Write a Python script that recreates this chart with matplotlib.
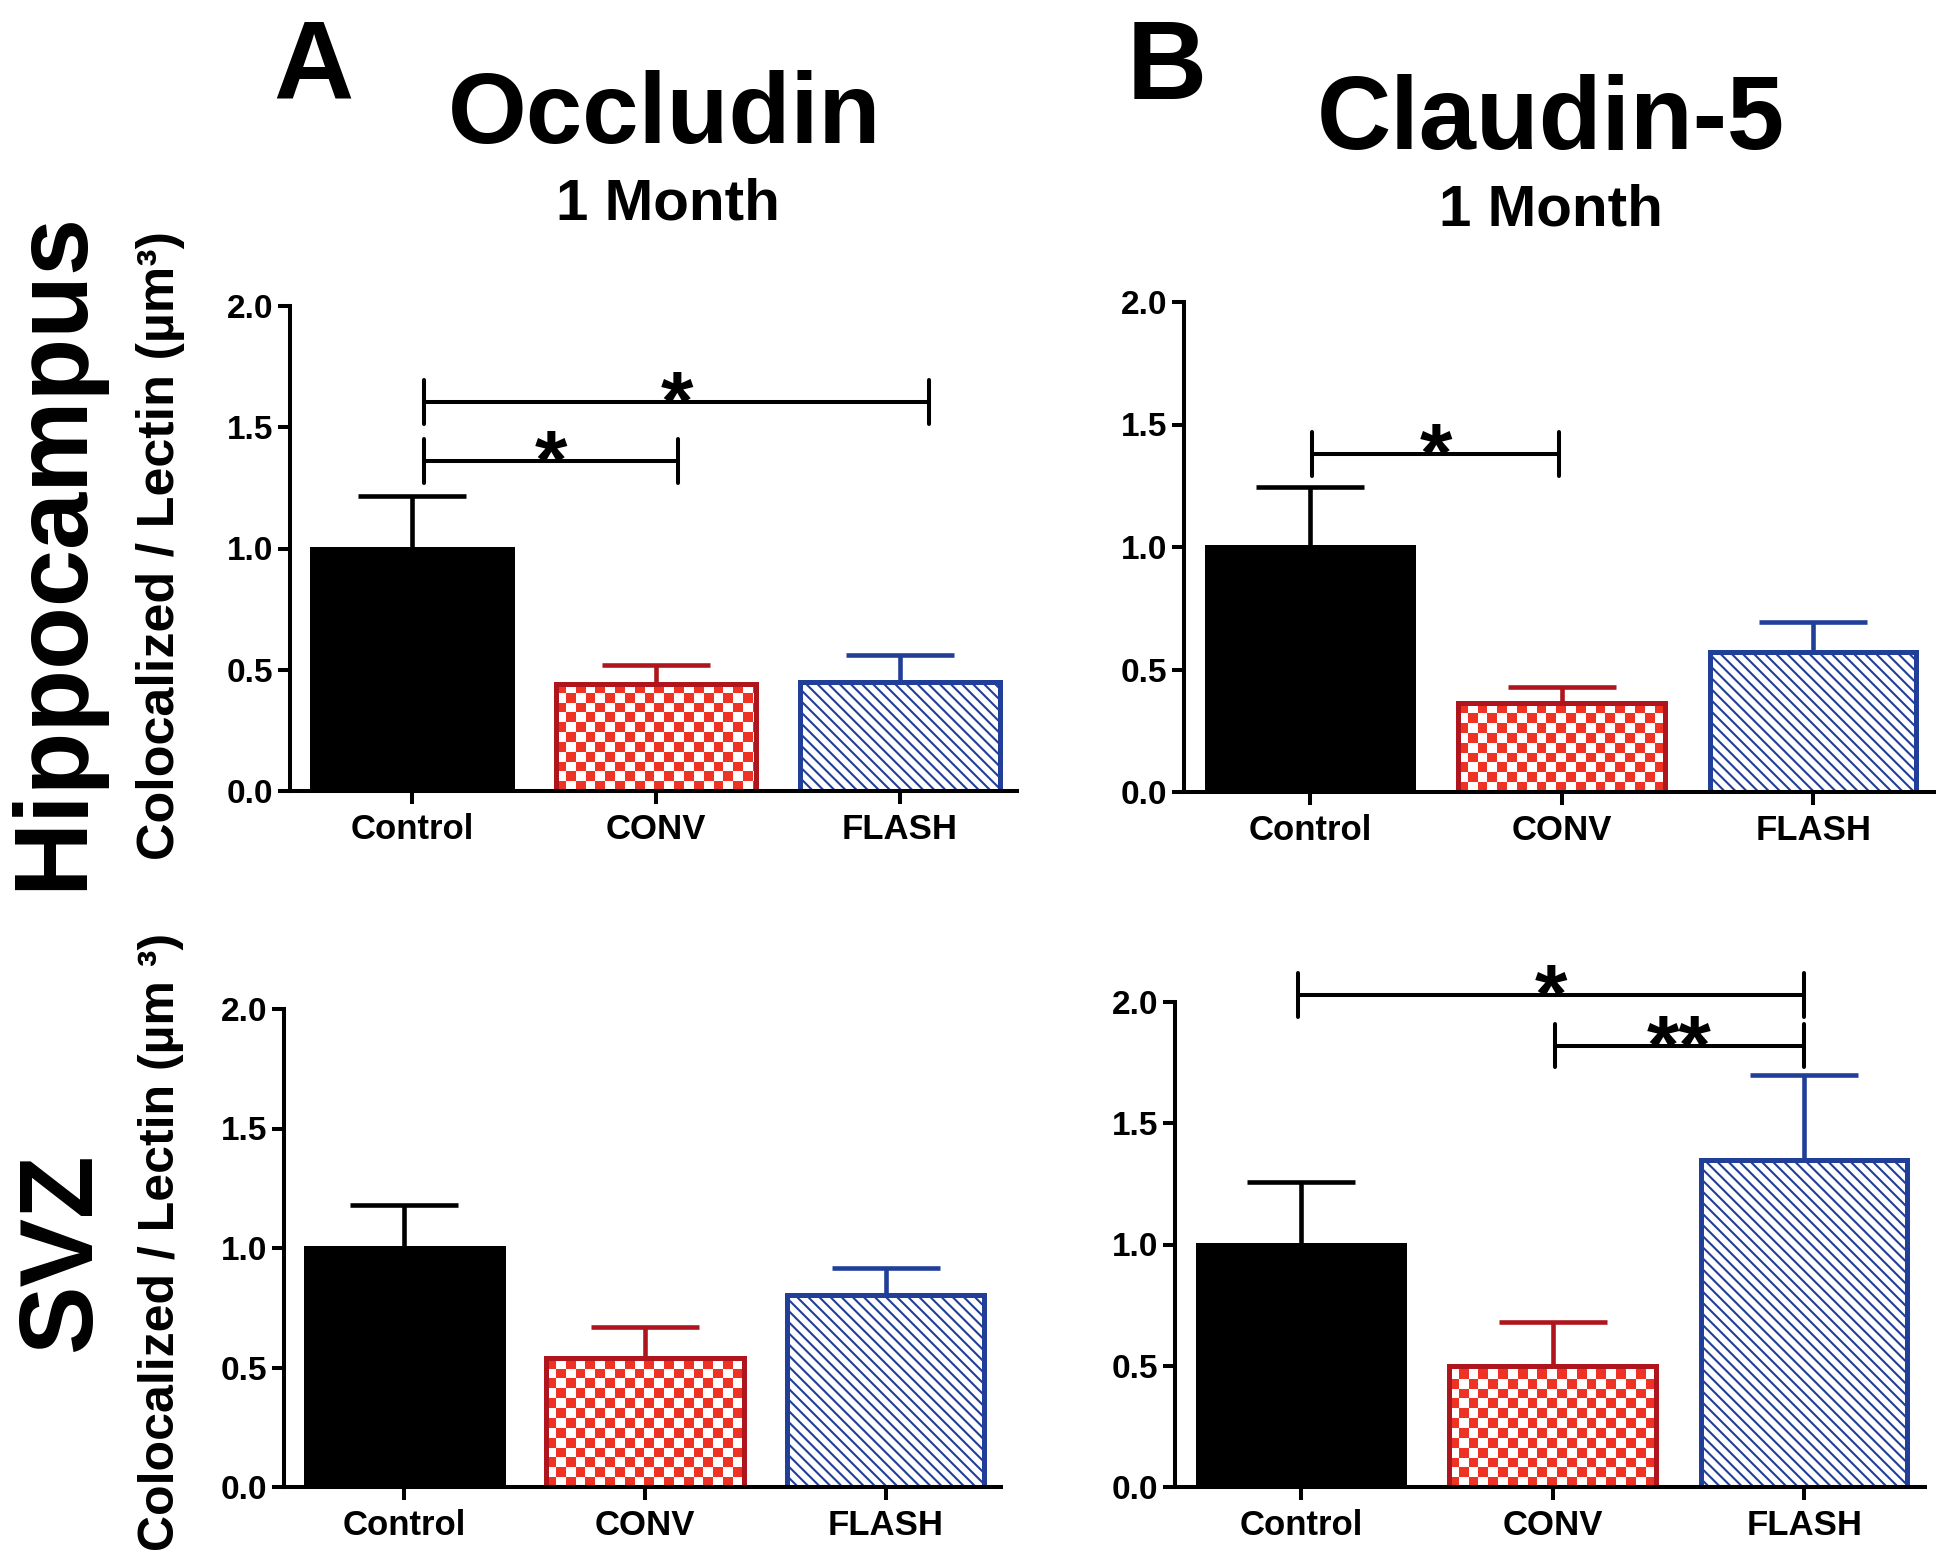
import numpy as np
import matplotlib
matplotlib.use('Agg')
import matplotlib.pyplot as plt

plt.rcParams['font.family'] = ['Liberation Sans', 'DejaVu Sans']
plt.rcParams['font.weight'] = 'bold'
plt.rcParams['hatch.linewidth'] = 1.5

# ---------------- data ----------------
groups = ['Control', 'CONV', 'FLASH']
yticks = [0.0, 0.5, 1.0, 1.5, 2.0]

occl_hip_mean = [1.00, 0.44, 0.45]
occl_hip_sem = [0.215, 0.078, 0.11]
cld5_hip_mean = [1.00, 0.365, 0.57]
cld5_hip_sem = [0.244, 0.065, 0.125]
occl_svz_mean = [1.00, 0.54, 0.805]
occl_svz_sem = [0.18, 0.13, 0.11]
cld5_svz_mean = [1.00, 0.497, 1.35]
cld5_svz_sem = [0.256, 0.183, 0.35]

# significance brackets: (group i, group j, level, label)
sig_occl_hip = [(0, 1, 1.36, '*'), (0, 2, 1.605, '*')]
sig_cld5_hip = [(0, 1, 1.38, '*')]
sig_occl_svz = []
sig_cld5_svz = [(0, 2, 2.03, '*'), (1, 2, 1.82, '**')]

# ---------------- style ----------------
W, H = 1950, 1562
DPI = 100
edge_colors = ['#000000', '#AE151C', '#213F99']
checker_color = '#EE3224'
BAR_W = 0.82

# bracket end offsets (style only)
sig_offsets = {
    'occl_hip': [(0.05, 0.09), (0.05, 0.12)],
    'cld5_hip': [(0.01, -0.01)],
    'occl_svz': [],
    'cld5_svz': [(-0.01, 0.0), (0.01, 0.0)],
}

# axes boxes in pixels: left, top(y of 2.0), right, bottom(y of 0)
boxes = {
    'occl_hip': (290, 306, 1017, 791),
    'cld5_hip': (1184, 302, 1934, 792),
    'occl_svz': (284, 1009, 1001, 1487),
    'cld5_svz': (1175, 1002, 1925, 1487),
}

fig = plt.figure(figsize=(W / DPI, H / DPI), dpi=DPI)

XLIM = (-0.5, 2.48)


def make_axes(key):
    l, t, r, b = boxes[key]
    ax = fig.add_axes([l / W, 1 - b / H, (r - l) / W, (b - t) / H])
    ax.set_xlim(*XLIM)
    ax.set_ylim(0, 2.0)
    for s in ['top', 'right']:
        ax.spines[s].set_visible(False)
    for s in ['left', 'bottom']:
        ax.spines[s].set_linewidth(2.9)
        ax.spines[s].set_zorder(5)
    ax.set_yticks(yticks)
    ax.set_yticklabels([f'{v:.1f}' for v in yticks], fontsize=24, fontweight='bold')
    ax.set_xticks(range(len(groups)))
    ax.set_xticklabels(groups, fontsize=25, fontweight='bold')
    ax.tick_params(axis='both', direction='out', length=9, width=2.9)
    ax.tick_params(axis='y', pad=3)
    ax.tick_params(axis='x', pad=7)
    return ax


def checker(ax, bar, color, cell_px=9.8):
    x0, y0 = bar.get_x(), bar.get_y()
    w, h = bar.get_width(), bar.get_height()
    px0, py0 = ax.transData.transform((x0, y0))
    px1, py1 = ax.transData.transform((x0 + w, y0 + h))
    nx = int(np.ceil((px1 - px0) / cell_px))
    ny = int(np.ceil((py1 - py0) / cell_px))
    cw = cell_px * w / (px1 - px0)
    ch = cell_px * h / (py1 - py0)
    ii, jj = np.indices((ny, nx))
    mask = ((ii + jj) % 2) == 0
    rgba = np.ones((ny, nx, 4))
    c = matplotlib.colors.to_rgba(color)
    rgba[mask] = c
    im = ax.imshow(rgba, extent=[x0, x0 + nx * cw, y0, y0 + ny * ch],
                   origin='lower', aspect='auto', interpolation='nearest',
                   zorder=2.2)
    im.set_clip_path(bar)


def panel(key, means, sems, sigs):
    ax = make_axes(key)
    x = np.arange(len(groups))
    # control bar
    ax.bar(x[0], means[0], width=BAR_W, color='black', edgecolor='black',
           linewidth=3.6, zorder=2)
    # CONV bar: checkerboard
    b1 = ax.bar(x[1], means[1], width=BAR_W, color='white',
                edgecolor='none', linewidth=0, zorder=2)[0]
    checker(ax, b1, checker_color)
    ax.bar(x[1], means[1], width=BAR_W, fill=False, edgecolor=edge_colors[1],
           linewidth=3.6, zorder=2.5)
    # FLASH bar: dense diagonal hatch
    ax.bar(x[2], means[2], width=BAR_W, color='white', edgecolor=edge_colors[2],
           hatch='\\\\\\', linewidth=0, zorder=2)
    ax.bar(x[2], means[2], width=BAR_W, fill=False, edgecolor=edge_colors[2],
           linewidth=3.6, zorder=2.5)
    # error bars (upper only)
    for i in range(len(groups)):
        ax.errorbar(x[i], means[i], yerr=[[0], [sems[i]]], fmt='none',
                    ecolor=edge_colors[i], elinewidth=3.3, capsize=39,
                    capthick=3.3, zorder=1.8)
    ax.set_xlim(*XLIM)
    ax.set_ylim(0, 2.0)
    # significance brackets
    for (i, j, lvl, lab), (d0, d1) in zip(sigs, sig_offsets[key]):
        xa, xb = i + d0, j + d1
        ax.plot([xa, xb], [lvl, lvl], color='black', lw=2.9, clip_on=False,
                solid_capstyle='butt', zorder=4)
        for xx in (xa, xb):
            ax.plot([xx, xx], [lvl - 0.09, lvl + 0.09], color='black', lw=2.9,
                    clip_on=False, solid_capstyle='round', zorder=4)
        ax.annotate(lab, xy=((xa + xb) / 2, lvl), xytext=(0, -20),
                    textcoords='offset points', ha='center', va='baseline',
                    fontsize=60, fontweight='bold', annotation_clip=False)
    return ax


panel('occl_hip', occl_hip_mean, occl_hip_sem, sig_occl_hip)
panel('cld5_hip', cld5_hip_mean, cld5_hip_sem, sig_cld5_hip)
panel('occl_svz', occl_svz_mean, occl_svz_sem, sig_occl_svz)
panel('cld5_svz', cld5_svz_mean, cld5_svz_sem, sig_cld5_svz)


def ftext(x, y, s, **kw):
    fig.text(x / W, 1 - y / H, s, fontweight='bold', **kw)


# panel letters and titles
ftext(313, 99, 'A', fontsize=80, ha='center', va='baseline')
ftext(1167, 99, 'B', fontsize=80, ha='center', va='baseline')
ftext(665, 143, 'Occludin', fontsize=73, ha='center', va='baseline')
ftext(1551, 149, 'Claudin-5', fontsize=74, ha='center', va='baseline')
ftext(668, 220, '1 Month', fontsize=42, ha='center', va='baseline')
ftext(1551, 226, '1 Month', fontsize=42, ha='center', va='baseline')

# row labels
ftext(81, 550, 'Hippocampus', fontsize=74, ha='center', va='baseline',
      rotation=90, rotation_mode='anchor')
ftext(90, 1252, 'SVZ', fontsize=74, ha='center', va='baseline',
      rotation=90, rotation_mode='anchor')

# y labels
ftext(174, 546, 'Colocalized / Lectin (µm³)', fontsize=37.5, ha='center',
      va='baseline', rotation=90, rotation_mode='anchor')
ftext(174, 1242, 'Colocalized / Lectin (µm ³)', fontsize=36, ha='center',
      va='baseline', rotation=90, rotation_mode='anchor')

fig.savefig('out.png', dpi=DPI, facecolor='white')
